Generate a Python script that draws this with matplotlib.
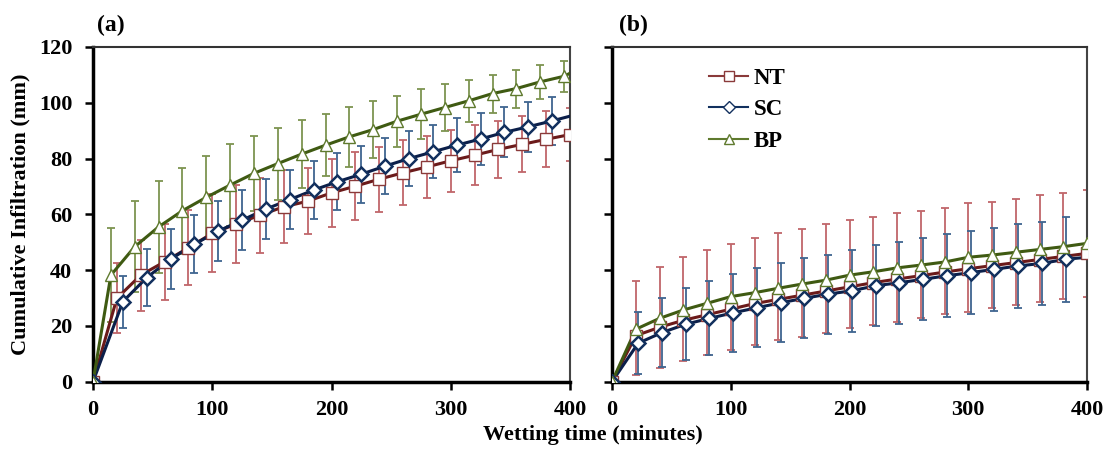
import matplotlib.pyplot as plt
import numpy as np

plt.rcParams['font.family'] = ['Liberation Serif', 'DejaVu Serif']
plt.rcParams['font.weight'] = 'bold'

# ---- panel (a) data ----
a_nt_t = [0, 20, 40, 60, 80, 100, 120, 140, 160, 180, 200, 220, 240, 260, 280, 300, 320, 340, 360, 380, 400]
a_nt = [0, 29.9, 38.2, 43.0, 48.0, 53.2, 56.5, 59.7, 62.7, 64.7, 67.7, 70.1, 72.6, 74.9, 77.0, 79.2, 81.2, 83.3, 85.1, 86.9, 88.6]
a_nt_sd = [0, 12.6, 12.7, 13.7, 13.4, 14.0, 13.9, 13.5, 13.1, 11.9, 12.3, 12.1, 11.6, 11.7, 11.0, 11.1, 10.7, 10.3, 10.0, 10.0, 9.5]

a_sc_t = [0, 25, 45, 65, 85, 105, 125, 145, 165, 185, 205, 225, 245, 265, 285, 305, 325, 345, 365, 385]
a_sc = [0, 28.7, 37.3, 43.9, 49.3, 54.0, 57.9, 61.9, 65.3, 68.7, 71.7, 74.4, 77.3, 80.0, 82.4, 84.8, 87.0, 89.4, 91.4, 93.5]
a_sc_sd = [0, 9.3, 10.1, 10.7, 10.5, 10.7, 10.7, 10.7, 10.5, 10.5, 10.3, 10.2, 10.0, 10.0, 9.5, 9.6, 9.2, 9.0, 9.0, 8.5]
a_sc_end = 95.2

a_bp_t = [0, 15, 35, 55, 75, 95, 115, 135, 155, 175, 195, 215, 235, 255, 275, 295, 315, 335, 355, 375, 395]
a_bp = [0, 38.2, 48.4, 55.5, 61.3, 66.1, 70.5, 74.7, 78.2, 81.6, 84.8, 87.8, 90.4, 93.4, 95.9, 98.3, 100.7, 103.3, 105.1, 107.5, 109.5]
a_bp_sd = [0, 16.8, 16.3, 16.4, 15.4, 14.9, 14.7, 13.4, 12.9, 12.2, 11.1, 10.7, 10.3, 9.1, 8.9, 8.3, 7.6, 6.8, 6.8, 6.0, 5.5]
a_bp_end = 110.6

# ---- panel (b) data ----
b_nt_t = [0, 20, 40, 60, 80, 100, 120, 140, 160, 180, 200, 220, 240, 260, 280, 300, 320, 340, 360, 380, 400]
b_nt = [0, 16.5, 19.5, 22.0, 24.0, 26.0, 28.0, 29.5, 31.0, 32.5, 34.0, 35.5, 36.8, 38.0, 39.3, 40.5, 41.6, 42.7, 43.8, 44.9, 46.0]
b_nt_minus = [0, 14.1, 14.5, 14.5, 14.4, 14.6, 14.9, 14.6, 14.9, 14.9, 14.9, 15.2, 15.3, 15.3, 15.0, 15.4, 15.3, 15.2, 15.4, 15.4, 15.5]
b_nt_plus = [0, 19.6, 21.5, 22.6, 23.2, 23.3, 23.6, 23.9, 23.6, 23.9, 23.8, 23.4, 23.5, 23.2, 23.1, 23.4, 22.9, 22.8, 23.1, 22.8, 22.7]

b_sc_t = [0, 22, 42, 62, 82, 102, 122, 142, 162, 182, 202, 222, 242, 262, 282, 302, 322, 342, 362, 382]
b_sc = [0, 13.8, 17.6, 20.6, 22.7, 24.7, 26.5, 28.3, 29.9, 31.4, 32.6, 34.4, 35.5, 36.7, 38.0, 39.1, 40.3, 41.5, 42.4, 43.9]
b_sc_sd = [0, 11.2, 12.4, 13.0, 13.3, 13.9, 14.1, 14.2, 14.3, 14.2, 14.7, 14.6, 14.7, 14.7, 14.8, 15.0, 14.9, 15.0, 15.0, 15.2]
b_sc_end = 44.6

b_bp_t = [0, 20, 40, 60, 80, 100, 120, 140, 160, 180, 200, 220, 240, 260, 280, 300, 320, 340, 360, 380, 400]
b_bp = [0, 18.8, 22.7, 25.7, 28.1, 30.5, 31.9, 33.5, 35.0, 36.4, 38.2, 39.4, 40.8, 41.8, 42.9, 44.6, 45.4, 46.4, 47.4, 48.4, 49.6]

labels = ['NT', 'SC', 'BP']
line_cols = ['#6b1a1a', '#0b1f4a', '#3f5a12']
edge_cols = ['#8a3a3a', '#12305e', '#5f7a2e']
err_cols = ['#c0666a', '#3f6590', '#7d9450']
markers = ['s', 'D', '^']
msizes = [8.5, 7.5, 8.5]
mews = [1.0, 1.8, 1.0]


def draw_series(ax, t, y, err, k, end=None):
    if err is not None:
        ax.errorbar(t, y, yerr=err, fmt='none', ecolor=err_cols[k], elinewidth=1.3,
                    capsize=3, capthick=1.3, zorder=2)
    tl = list(t)
    yl = list(y)
    if end is not None:
        tl.append(400)
        yl.append(end)
    ax.plot(tl, yl, color=line_cols[k], lw=2.2, zorder=3)
    ax.plot(t, y, ls='none', marker=markers[k], ms=msizes[k], mfc='white',
            mec=edge_cols[k], mew=mews[k], zorder=4)


fig = plt.figure(figsize=(11.14, 4.5), dpi=100)
ax1 = fig.add_axes([0.0835, 0.1518, 0.4282, 0.7438])
ax2 = fig.add_axes([0.5494, 0.1518, 0.4264, 0.7438])

draw_series(ax1, a_nt_t, a_nt, a_nt_sd, 0)
draw_series(ax1, a_sc_t, a_sc, a_sc_sd, 1, a_sc_end)
draw_series(ax1, a_bp_t, a_bp, a_bp_sd, 2, a_bp_end)

draw_series(ax2, b_nt_t, b_nt, [b_nt_minus, b_nt_plus], 0)
draw_series(ax2, b_sc_t, b_sc, b_sc_sd, 1, b_sc_end)
draw_series(ax2, b_bp_t, b_bp, None, 2)

for ax in (ax1, ax2):
    ax.set_xlim(0, 400)
    ax.set_ylim(0, 120)
    ax.set_xticks([0, 100, 200, 300, 400])
    ax.set_yticks(np.arange(0, 121, 20))
    ax.spines['left'].set_linewidth(2.5)
    ax.spines['bottom'].set_linewidth(2.5)
    ax.spines['top'].set_linewidth(1.5)
    ax.spines['right'].set_linewidth(1.5)
    ax.spines['top'].set_color('#333333')
    ax.spines['right'].set_color('#444444')
    ax.tick_params(direction='out', length=6, width=1.8, labelsize=16)
    ax.tick_params(axis='y', pad=9)
    ax.tick_params(axis='x', pad=7)
    for lab in ax.get_xticklabels() + ax.get_yticklabels():
        lab.set_fontweight('bold')

ax2.set_yticklabels([])
ax1.set_ylabel('Cumulative Infiltration (mm)', fontsize=16, fontweight='bold', labelpad=6)
fig.text(0.532, 0.022, 'Wetting time (minutes)', ha='center', fontsize=16, fontweight='bold')
fig.text(0.087, 0.93, '(a)', fontsize=17, fontweight='bold')
fig.text(0.556, 0.93, '(b)', fontsize=17, fontweight='bold')

handles = []
for k in range(3):
    h, = ax2.plot([], [], color=edge_cols[k], lw=1.5, marker=markers[k], ms=msizes[k] - 1,
                  mfc='white', mec=edge_cols[k], mew=1.0)
    handles.append(h)
ax2.legend(handles, labels, loc='upper left', bbox_to_anchor=(0.185, 0.965), frameon=False,
           prop={'size': 16.5, 'weight': 'bold'}, handlelength=1.7, handletextpad=0.25,
           labelspacing=0.45, borderaxespad=0)

fig.savefig('out.png', dpi=100)
